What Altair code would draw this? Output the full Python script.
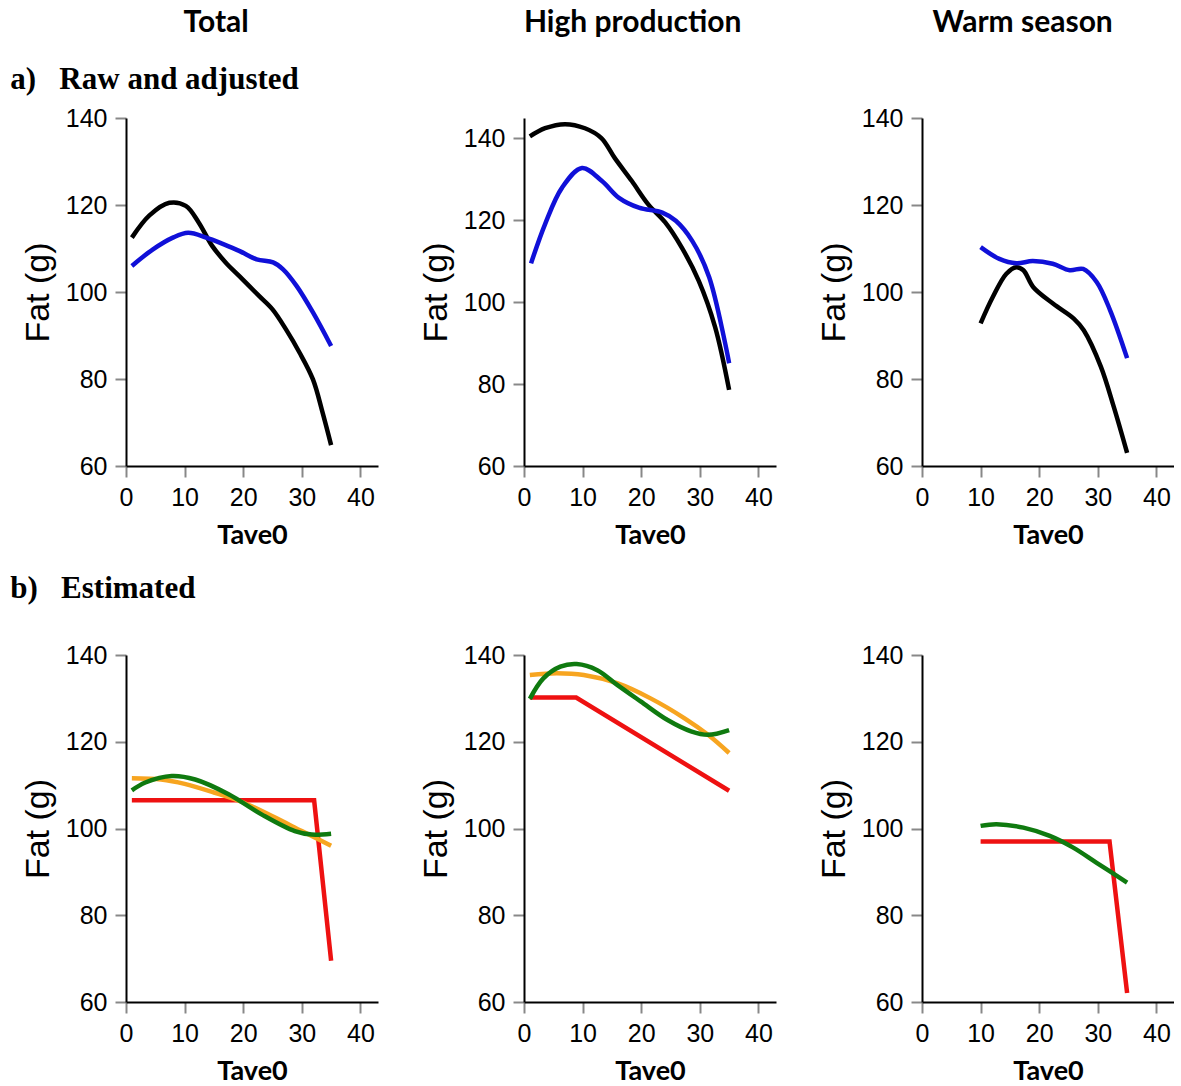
import altair as alt
import pandas as pd

# ---------------- data ----------------
headers = ["Total", "High production", "Warm season"]
row_labels = ["a)\u2002 Raw and adjusted", "b)\u2002 Estimated"]
x_ticks = [0, 10, 20, 30, 40]
y_ticks = [60, 80, 100, 120, 140]

# Row a: raw (black) and adjusted (blue)
a1_black_t = [1, 4, 7.4, 10.2, 12.4, 14.7, 17, 19.3, 22.7, 25, 27.3, 29.6, 31.9, 33.5, 35]
a1_black_f = [112.5, 117.6, 120.5, 119.8, 116, 110.6, 106.8, 103.7, 99.1, 96, 91.4, 86.1, 79.9, 72.5, 64.8]
a1_blue_t = [1, 4.6, 8, 10.6, 13.7, 16.6, 19.4, 22.3, 25.1, 26.8, 29.1, 31.9, 35]
a1_blue_f = [106, 109.8, 112.5, 113.6, 112.5, 111, 109.4, 107.5, 106.8, 105.2, 101.4, 95.3, 87.6]

a2_black_t = [1, 3.6, 7, 10.4, 13.2, 15.5, 18.4, 21.2, 24.1, 26.9, 29.8, 32.6, 35]
a2_black_f = [140.5, 142.5, 143.5, 142.5, 140.1, 135.2, 129.6, 123.9, 119.5, 113.4, 105.3, 94, 78.6]
a2_blue_t = [1.2, 3.6, 6.5, 9.9, 13.3, 16.2, 19.6, 23.6, 25.9, 28.7, 31.6, 35]
a2_blue_f = [109.5, 119.1, 128, 132.8, 129.6, 125.5, 123.1, 121.9, 119.9, 115, 106.1, 85.1]

a3_black_t = [10, 12.1, 14.4, 16.1, 17.3, 19, 22.4, 25.9, 27.6, 30.5, 32.7, 35]
a3_black_f = [92.8, 98.9, 104.2, 105.7, 105, 101.1, 97.3, 93.9, 91.2, 82.9, 73.7, 63]
a3_blue_t = [10, 13.2, 16.1, 18.9, 22.3, 25.2, 27.5, 29.8, 32.1, 35]
a3_blue_f = [110.3, 107.6, 106.6, 107.1, 106.5, 105, 105.3, 102.3, 95.8, 84.8]

# Row b: estimated (red, orange, green)
b1_red_t = [1, 32.1, 35]
b1_red_f = [106.5, 106.5, 69.5]
b1_orange_t = [1, 6, 10, 15, 20, 25, 30, 35]
b1_orange_f = [111.6, 111.3, 110.3, 108.3, 106, 102.8, 99.4, 96]
b1_green_t = [1, 3.3, 7.8, 11.8, 17.5, 23.2, 28.8, 31.7, 35]
b1_green_f = [108.8, 110.6, 112.1, 111.3, 107.9, 103.2, 99.4, 98.6, 98.8]

b2_red_t = [1, 8.9, 35]
b2_red_f = [130.2, 130.2, 108.7]
b2_orange_t = [1, 5.6, 10.2, 15.9, 21.6, 27.4, 31.4, 35]
b2_orange_f = [135.4, 135.8, 135.4, 133.5, 130, 125.4, 121.6, 117.4]
b2_green_t = [1, 3.3, 6.2, 9, 12.5, 15.9, 19.9, 24.5, 28.5, 31.4, 35]
b2_green_f = [129.9, 134.6, 137.3, 137.9, 136.5, 133.1, 129.3, 125, 122.4, 121.6, 122.7]

b3_red_t = [10, 32, 35]
b3_red_f = [97, 97, 62.1]
b3_green_t = [10, 12.7, 17.3, 21.8, 25.8, 29.8, 35]
b3_green_f = [100.6, 101, 100.2, 98.3, 95.6, 92.1, 87.5]

BLACK = "#000000"
BLUE = "#1010d8"
RED = "#ee1111"
ORANGE = "#f7a520"
GREEN = "#0f7a0f"

# ---------------- chart building ----------------
PW = 252
SMOOTH = "catmull-rom"


def line_layer(t, f, color, interp, ydom):
    df = pd.DataFrame({"Tave0": t, "Fat": f})
    return alt.Chart(df).mark_line(
        color=color, strokeWidth=4.5, interpolate=interp, strokeCap="butt"
    ).encode(
        x=alt.X("Tave0:Q", title="Tave0",
                scale=alt.Scale(domain=[0, 43], nice=False, zero=False),
                axis=alt.Axis(values=x_ticks, labelFlush=False)),
        y=alt.Y("Fat:Q", title="Fat (g)",
                scale=alt.Scale(domain=ydom, nice=False, zero=False),
                axis=alt.Axis(values=y_ticks, labelFlush=False)),
    )


def panel(series, ydom, h, ttext, toffset, dx):
    layers = [line_layer(t, f, c, i, ydom) for (t, f, c, i) in series]
    return alt.layer(*layers).properties(
        width=PW, height=h,
        title=alt.TitleParams(
            text=ttext, anchor="start", font="Liberation Serif", fontSize=31,
            fontWeight="bold", color="black", offset=toffset, dx=dx,
        ),
    )


a1 = panel([(a1_black_t, a1_black_f, BLACK, SMOOTH),
            (a1_blue_t, a1_blue_f, BLUE, SMOOTH)],
           [60, 140], 348, row_labels[0], 10, -11)
a2 = panel([(a2_black_t, a2_black_f, BLACK, SMOOTH),
            (a2_blue_t, a2_blue_f, BLUE, SMOOTH)],
           [60, 145], 348, " ", 10, 0)
a3 = panel([(a3_black_t, a3_black_f, BLACK, SMOOTH),
            (a3_blue_t, a3_blue_f, BLUE, SMOOTH)],
           [60, 140], 348, " ", 10, 0)

b1 = panel([(b1_red_t, b1_red_f, RED, "linear"),
            (b1_orange_t, b1_orange_f, ORANGE, SMOOTH),
            (b1_green_t, b1_green_f, GREEN, SMOOTH)],
           [60, 140], 347, row_labels[1], 38, -11)
b2 = panel([(b2_red_t, b2_red_f, RED, "linear"),
            (b2_orange_t, b2_orange_f, ORANGE, SMOOTH),
            (b2_green_t, b2_green_f, GREEN, SMOOTH)],
           [60, 140], 347, " ", 38, 0)
b3 = panel([(b3_red_t, b3_red_f, RED, "linear"),
            (b3_green_t, b3_green_f, GREEN, SMOOTH)],
           [60, 140], 347, " ", 38, 0)


def column(top, bottom, header, dx, dy):
    return alt.vconcat(top, bottom, spacing=25).properties(
        title=alt.TitleParams(
            text=header, anchor="middle", font="Lato", fontSize=30,
            fontWeight="bold", color="black", offset=26, dx=dx, dy=dy,
        )
    )


chart = alt.hconcat(
    column(a1, b1, headers[0], 22, 0),
    column(a2, b2, headers[1], 35, -9),
    column(a3, b3, headers[2], 27, 0),
    spacing=41,
).properties(
    padding={"left": 10, "top": 8, "right": 0, "bottom": 0},
    background="white",
).configure_view(
    stroke=None
).configure_axis(
    grid=False, domainColor="black", domainWidth=2,
    tickColor="#888888", tickWidth=2, tickSize=11,
    labelFont="Liberation Sans", labelFontSize=25, labelColor="black",
    labelPadding=8, titleColor="black",
).configure_axisX(
    titleFont="Lato", titleFontSize=27, titleFontWeight="bold", titlePadding=12,
).configure_axisY(
    titleFont="Liberation Sans", titleFontSize=34, titleFontWeight="normal",
    titlePadding=10,
)

chart.save("out.html", embed_options={"renderer": "svg", "actions": False})
